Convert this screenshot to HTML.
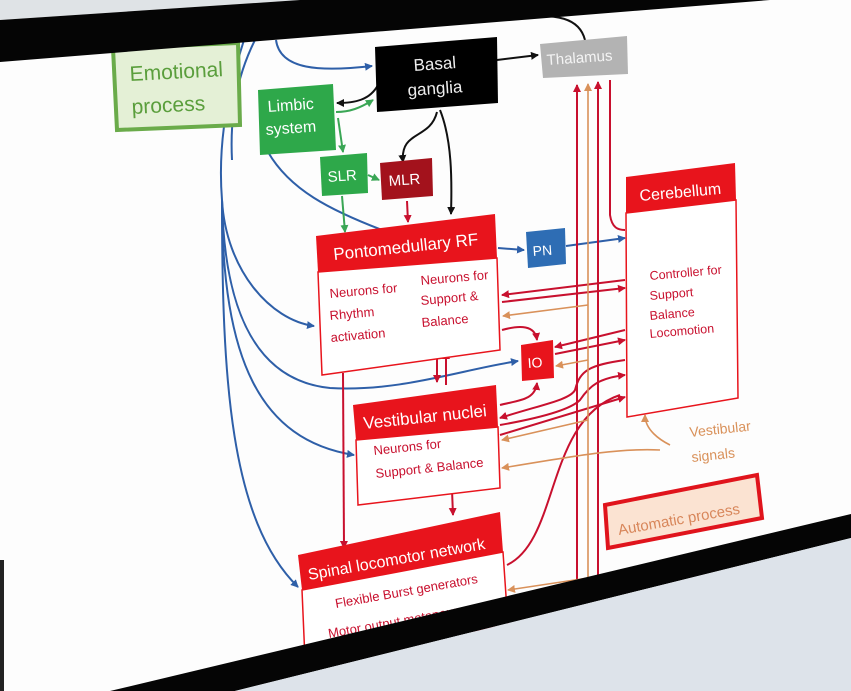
<!DOCTYPE html>
<html><head><meta charset="utf-8"><style>
html,body{margin:0;padding:0;background:#fff;}
svg{display:block;}
text{font-family:"Liberation Sans",sans-serif;}
</style></head><body>
<svg width="851" height="691" viewBox="0 0 851 691" xmlns="http://www.w3.org/2000/svg">
<defs>
<marker id="ab" markerWidth="8" markerHeight="8" refX="7" refY="4" orient="auto" markerUnits="userSpaceOnUse"><path d="M0,0 L8,4 L0,8 z" fill="#2e5fa8"/></marker>
<marker id="ar" markerWidth="8" markerHeight="8" refX="7" refY="4" orient="auto" markerUnits="userSpaceOnUse"><path d="M0,0 L8,4 L0,8 z" fill="#c8102e"/></marker>
<marker id="ao" markerWidth="8" markerHeight="8" refX="7" refY="4" orient="auto" markerUnits="userSpaceOnUse"><path d="M0,0 L8,4 L0,8 z" fill="#d9915a"/></marker>
<marker id="ak" markerWidth="8" markerHeight="8" refX="7" refY="4" orient="auto" markerUnits="userSpaceOnUse"><path d="M0,0 L8,4 L0,8 z" fill="#111"/></marker>
<marker id="ag" markerWidth="8" markerHeight="8" refX="7" refY="4" orient="auto" markerUnits="userSpaceOnUse"><path d="M0,0 L8,4 L0,8 z" fill="#3aa655"/></marker>
</defs>
<rect width="851" height="691" fill="#fdfdfd"/>

<g fill="none" stroke="#2e5fa8" stroke-width="2">
<path d="M276,40 C280,70 320,72 372,66" marker-end="url(#ab)"/>
<path d="M255,40 C235,80 230,120 232,160"/>
<path d="M244,40 C225,100 218,150 222,200 C226,270 270,320 314,326" marker-end="url(#ab)"/>
<path d="M222,200 C224,300 250,380 330,388 C400,392 460,370 518,361" marker-end="url(#ab)"/>
<path d="M222,200 C222,360 260,440 354,455" marker-end="url(#ab)"/>
<path d="M222,200 C222,380 230,520 298,587" marker-end="url(#ab)"/>
<path d="M268,152 C290,190 330,210 382,230"/>
<path d="M498,248 L524,250" marker-end="url(#ab)"/>
<path d="M566,246 L625,238" marker-end="url(#ab)"/>
</g>
<g fill="none" stroke="#111" stroke-width="2">
<path d="M497,60 L538,55" marker-end="url(#ak)"/>
<path d="M378,85 C370,100 355,103 337,103" marker-end="url(#ak)"/>
<path d="M437,112 C430,140 400,130 403,162" marker-end="url(#ak)"/>
<path d="M440,110 C452,140 452,180 451,214" marker-end="url(#ak)"/>
<path d="M505,20 C560,10 580,20 585,40"/>
</g>
<g fill="none" stroke="#3aa655" stroke-width="2">
<path d="M336,112 C350,112 360,108 373,100" marker-end="url(#ag)"/>
<path d="M338,118 L343,152" marker-end="url(#ag)"/>
<path d="M368,175 L379,180" marker-end="url(#ag)"/>
<path d="M342,196 L345,232" marker-end="url(#ag)"/>
</g>
<g fill="none" stroke="#c8102e" stroke-width="2">
<path d="M407,201 L408,222" marker-end="url(#ar)"/>
<path d="M577,580 L577,85" marker-end="url(#ar)"/>
<path d="M598,575 L598,82" marker-end="url(#ar)"/>
<path d="M610,80 L610,215 C612,228 618,230 625,230"/>
<path d="M625,280 L502,295" marker-end="url(#ar)"/>
<path d="M502,302 L625,288" marker-end="url(#ar)"/>
<path d="M502,330 C520,325 535,325 537,340" marker-end="url(#ar)"/>
<path d="M625,330 L555,347" marker-end="url(#ar)"/>
<path d="M555,354 L625,340" marker-end="url(#ar)"/>
<path d="M500,405 C520,400 535,400 537,383" marker-end="url(#ar)"/>
<path d="M625,360 C590,365 580,370 575,390 C570,400 540,405 500,418" marker-end="url(#ar)"/>
<path d="M500,425 C540,418 570,410 580,400 C590,385 600,378 625,375" marker-end="url(#ar)"/>
<path d="M500,435 L625,397" marker-end="url(#ar)"/>
<path d="M437,348 L437,382" marker-end="url(#ar)"/>
<path d="M446,385 L446,352" marker-end="url(#ar)"/>
<path d="M343,373 L344,548" marker-end="url(#ar)"/>
<path d="M452,490 L453,515" marker-end="url(#ar)"/>
<path d="M507,565 C560,540 545,420 620,395"/>
</g>
<g fill="none" stroke="#d9915a" stroke-width="1.6">
<path d="M588,580 L588,84" marker-end="url(#ao)"/>
<path d="M588,305 L503,316" marker-end="url(#ao)"/>
<path d="M588,360 L556,366" marker-end="url(#ao)"/>
<path d="M588,420 L502,440" marker-end="url(#ao)"/>
<path d="M660,450 C620,448 580,455 502,468" marker-end="url(#ao)"/>
<path d="M588,578 L508,590" marker-end="url(#ao)"/>
<path d="M670,445 C660,440 645,430 645,415" marker-end="url(#ao)"/>
</g>

<polygon points="113,48 238,43 240,125 117,130" fill="#e4f0d6" stroke="#6aab4a" stroke-width="4"/>
<text transform="translate(130,81) rotate(-3)" font-size="21" fill="#5a9e3c">Emotional</text>
<text transform="translate(132,114) rotate(-3)" font-size="21" fill="#5a9e3c">process</text>

<polygon points="258,90 333,84 336,150 260,155" fill="#2ea84a"/>
<text transform="translate(268,112) rotate(-4)" font-size="16" fill="#fff">Limbic</text>
<text transform="translate(266,135) rotate(-4)" font-size="16" fill="#fff">system</text>

<polygon points="375,47 497,37 498,103 377,112" fill="#000"/>
<text transform="translate(414,71) rotate(-4)" font-size="17" fill="#eee">Basal</text>
<text transform="translate(408,96) rotate(-4)" font-size="17" fill="#eee">ganglia</text>

<polygon points="540,44 627,36 628,74 543,78" fill="#b3b3b3"/>
<text transform="translate(547,65) rotate(-4)" font-size="15" fill="#f4f4f4">Thalamus</text>

<polygon points="320,157 367,153 368,193 322,196" fill="#2ea84a"/>
<text transform="translate(328,182) rotate(-4)" font-size="15" fill="#fff">SLR</text>
<polygon points="380,163 432,158 433,196 382,200" fill="#a3121c"/>
<text transform="translate(389,186) rotate(-4)" font-size="15" fill="#fff">MLR</text>

<polygon points="316,236 495,214 497,258 318,272" fill="#e8141c"/>
<polygon points="318,272 497,258 500,350 322,375" fill="#fff" stroke="#e8141c" stroke-width="1.5"/>
<text transform="translate(334,260) rotate(-6)" font-size="17" fill="#fff">Pontomedullary RF</text>
<g fill="#c8102e" font-size="13">
<text transform="translate(330,298) rotate(-5)">Neurons for</text>
<text transform="translate(330,320) rotate(-5)">Rhythm</text>
<text transform="translate(331,342) rotate(-5)">activation</text>
<text transform="translate(421,285) rotate(-5)">Neurons for</text>
<text transform="translate(421,305) rotate(-5)">Support &amp;</text>
<text transform="translate(422,327) rotate(-5)">Balance</text>
</g>

<polygon points="526,232 565,228 566,264 528,268" fill="#2e6db4"/>
<text transform="translate(533,256) rotate(-4)" font-size="14" fill="#fff">PN</text>

<polygon points="626,177 735,163 736,200 626,213" fill="#e8141c"/>
<polygon points="626,213 736,200 738,398 627,417" fill="#fff" stroke="#e8141c" stroke-width="1.5"/>
<text transform="translate(640,201) rotate(-5)" font-size="16" fill="#fff">Cerebellum</text>
<g fill="#c8102e" font-size="12.5">
<text transform="translate(650,280) rotate(-5)">Controller for</text>
<text transform="translate(650,300) rotate(-5)">Support</text>
<text transform="translate(650,320) rotate(-5)">Balance</text>
<text transform="translate(650,338) rotate(-5)">Locomotion</text>
</g>

<polygon points="521,345 553,340 554,378 522,381" fill="#e8141c"/>
<text transform="translate(528,368) rotate(-4)" font-size="14" fill="#fff">IO</text>

<polygon points="353,405 496,385 498,427 356,440" fill="#e8141c"/>
<polygon points="356,440 498,427 500,488 358,505" fill="#fff" stroke="#e8141c" stroke-width="1.5"/>
<text transform="translate(364,429) rotate(-6)" font-size="17" fill="#fff">Vestibular nuclei</text>
<g fill="#c8102e" font-size="13">
<text transform="translate(374,455) rotate(-6)">Neurons for</text>
<text transform="translate(376,478) rotate(-6)">Support &amp; Balance</text>
</g>

<polygon points="298,555 500,512 503,552 302,590" fill="#e8141c"/>
<polygon points="302,590 503,552 508,625 305,660" fill="#fff" stroke="#e8141c" stroke-width="1.5"/>
<text transform="translate(309,580) rotate(-10)" font-size="16" fill="#fff">Spinal locomotor network</text>
<g fill="#c8102e" font-size="13">
<text transform="translate(336,608) rotate(-10)">Flexible Burst generators</text>
<text transform="translate(329,638) rotate(-10)">Motor output motoneurons</text>
</g>

<polygon points="605,505 757,475 762,518 608,548" fill="#fbe3d2" stroke="#e0141c" stroke-width="4"/>
<text transform="translate(619,535) rotate(-10)" font-size="15" fill="#d8865a">Automatic process</text>

<text transform="translate(690,437) rotate(-6)" font-size="14" fill="#d9915a">Vestibular</text>
<text transform="translate(692,462) rotate(-6)" font-size="14" fill="#d9915a">signals</text>

<polygon points="0,0 300,0 0,20" fill="#dfe3e6"/>
<polygon points="0,20 300,0 770,0 0,62" fill="#050505"/>
<polygon points="110,691 851,514 851,538 235,691" fill="#050505"/>
<polygon points="235,691 851,538 851,691" fill="#dde3ea"/>
<polygon points="0,560 4,560 4,691 0,691" fill="#222"/>
</svg>
</body></html>
